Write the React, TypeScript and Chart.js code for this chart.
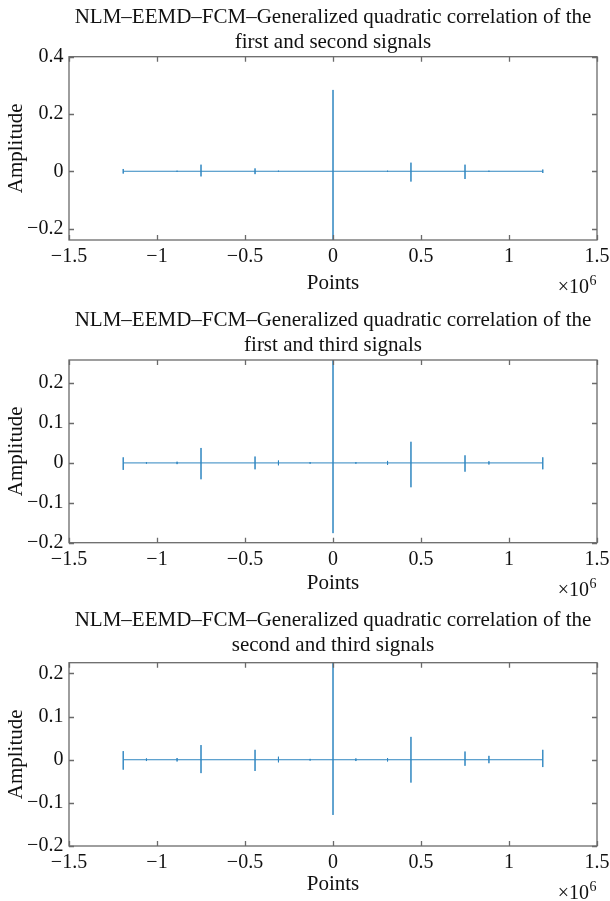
import React, { useEffect, useRef } from "react";
import { Chart, registerables } from "chart.js";

Chart.register(...registerables);

// ---------- data ----------
const X_TICKS = [-1.5e6, -1e6, -0.5e6, 0, 0.5e6, 1e6, 1.5e6];
const X_MIN = -1.5e6;
const X_MAX = 1.5e6;
const SIGNAL_START = -1.192e6;
const SIGNAL_END = 1.192e6;

const TITLE_LINE_1 = "NLM–EEMD–FCM–Generalized quadratic correlation of the";
const P1_TITLE_LINE_2 = "first and second signals";
const P2_TITLE_LINE_2 = "first and third signals";
const P3_TITLE_LINE_2 = "second and third signals";
const X_LABEL = "Points";
const Y_LABEL = "Amplitude";

const P1_SPIKE_X = [-1.192e6, -0.886e6, -0.75e6, -0.443e6, -0.31e6, 0, 0.31e6, 0.443e6, 0.75e6, 0.886e6, 1.192e6];
const P1_UP = [0.008, 0.002, 0.023, 0.01, 0.002, 0.284, 0.002, 0.03, 0.023, 0.002, 0.006];
const P1_DOWN = [-0.008, -0.002, -0.018, -0.01, -0.002, -0.3, -0.002, -0.036, -0.027, -0.002, -0.006];
const P1_Y_TICKS = [-0.2, 0, 0.2, 0.4];
const P1_Y_MIN = -0.24;
const P1_Y_MAX = 0.4;

const P2_SPIKE_X = [-1.192e6, -1.06e6, -0.886e6, -0.75e6, -0.443e6, -0.31e6, -0.13e6, 0, 0.13e6, 0.31e6, 0.443e6, 0.75e6, 0.886e6, 1.192e6];
const P2_UP = [0.014, 0.002, 0.003, 0.0375, 0.016, 0.006, 0.002, 0.3, 0.002, 0.005, 0.053, 0.019, 0.004, 0.014];
const P2_DOWN = [-0.0175, -0.002, -0.003, -0.041, -0.016, -0.006, -0.002, -0.176, -0.002, -0.005, -0.061, -0.022, -0.004, -0.016];
const P2_Y_TICKS = [-0.2, -0.1, 0, 0.1, 0.2];
const P2_Y_MIN = -0.2;
const P2_Y_MAX = 0.258;

const P3_SPIKE_X = [-1.192e6, -1.06e6, -0.886e6, -0.75e6, -0.443e6, -0.31e6, -0.13e6, 0, 0.13e6, 0.31e6, 0.443e6, 0.75e6, 0.886e6, 1.192e6];
const P3_UP = [0.02, 0.003, 0.004, 0.034, 0.023, 0.007, 0.002, 0.3, 0.003, 0.004, 0.053, 0.019, 0.009, 0.023];
const P3_DOWN = [-0.023, -0.003, -0.004, -0.031, -0.026, -0.006, -0.002, -0.128, -0.003, -0.004, -0.053, -0.014, -0.008, -0.017];
const P3_Y_TICKS = [-0.2, -0.1, 0, 0.1, 0.2];
const P3_Y_MIN = -0.2;
const P3_Y_MAX = 0.225;

// ---------- styling / layout ----------
const FONT = "'Liberation Serif', 'DejaVu Serif', serif";
const LINE_COLOR = "#2f86c0";
const BOX_COLOR = "#6a6a6a";
const TEXT_COLOR = "#111111";

type PanelDef = {
  title2: string;
  spikeX: number[];
  up: number[];
  down: number[];
  yTicks: number[];
  yMin: number;
  yMax: number;
  top: number;
  height: number;
  titlePadTop: number;
  titlePadBottom: number;
  xAxisHeight: number;
};

const PANELS: PanelDef[] = [
  { title2: P1_TITLE_LINE_2, spikeX: P1_SPIKE_X, up: P1_UP, down: P1_DOWN, yTicks: P1_Y_TICKS, yMin: P1_Y_MIN, yMax: P1_Y_MAX,
    top: 0, height: 300, titlePadTop: 4.5, titlePadBottom: 2.2, xAxisHeight: 60 },
  { title2: P2_TITLE_LINE_2, spikeX: P2_SPIKE_X, up: P2_UP, down: P2_DOWN, yTicks: P2_Y_TICKS, yMin: P2_Y_MIN, yMax: P2_Y_MAX,
    top: 300, height: 300, titlePadTop: 7.5, titlePadBottom: 2.5, xAxisHeight: 57.3 },
  { title2: P3_TITLE_LINE_2, spikeX: P3_SPIKE_X, up: P3_UP, down: P3_DOWN, yTicks: P3_Y_TICKS, yMin: P3_Y_MIN, yMax: P3_Y_MAX,
    top: 600, height: 301, titlePadTop: 7.5, titlePadBottom: 5.2, xAxisHeight: 55 },
];

function fmt(v: number, scale: number): string {
  const n = Number((v / scale).toFixed(3));
  if (n === 0) return "0";
  const s = String(Math.abs(n));
  return n < 0 ? "\u2212" + s : s;
}

function buildPoints(p: PanelDef) {
  const pts: { x: number; y: number }[] = [{ x: SIGNAL_START, y: 0 }];
  p.spikeX.forEach((x, i) => {
    pts.push({ x, y: 0 }, { x, y: p.up[i] }, { x, y: p.down[i] }, { x, y: 0 });
  });
  pts.push({ x: SIGNAL_END, y: 0 });
  return pts;
}

const boxPlugin = {
  id: "matlabBox",
  afterDraw(chart: any) {
    const { ctx, chartArea } = chart;
    const { left, right, top, bottom } = chartArea;
    const xs = chart.scales.x;
    const ys = chart.scales.y;
    ctx.save();
    ctx.strokeStyle = BOX_COLOR;
    ctx.lineWidth = 1.3;
    ctx.beginPath();
    X_TICKS.forEach((v) => {
      const px = Math.round(xs.getPixelForValue(v)) + 0.5;
      ctx.moveTo(px, bottom);
      ctx.lineTo(px, bottom - 5);
      ctx.moveTo(px, top);
      ctx.lineTo(px, top + 5);
    });
    (ys.ticks || []).forEach((t: any) => {
      const py = Math.round(ys.getPixelForValue(t.value)) + 0.5;
      ctx.moveTo(left, py);
      ctx.lineTo(left + 5, py);
      ctx.moveTo(right, py);
      ctx.lineTo(right - 5, py);
    });
    ctx.stroke();
    ctx.strokeRect(left, top, right - left, bottom - top);

    // x10^6 exponent label
    ctx.fillStyle = TEXT_COLOR;
    ctx.textBaseline = "alphabetic";
    ctx.textAlign = "left";
    ctx.font = `20px ${FONT}`;
    const base = "\u00d710";
    const wb = ctx.measureText(base).width;
    ctx.font = `14px ${FONT}`;
    const w6 = ctx.measureText("6").width;
    const x0 = right - 1 - w6 - wb;
    ctx.font = `20px ${FONT}`;
    ctx.fillText(base, x0, bottom + 53);
    ctx.font = `14px ${FONT}`;
    ctx.fillText("6", x0 + wb + 0.5, bottom + 45);
    ctx.restore();
  },
};

function Panel({ def }: { def: PanelDef }) {
  const ref = useRef<HTMLCanvasElement | null>(null);
  useEffect(() => {
    if (!ref.current) return;
    const chart = new Chart(ref.current, {
      type: "line",
      data: {
        datasets: [
          {
            data: buildPoints(def),
            borderColor: LINE_COLOR,
            borderWidth: 1,
            pointRadius: 0,
            tension: 0,
            fill: false,
          },
        ],
      },
      options: {
        responsive: false,
        animation: false,
        devicePixelRatio: 1,
        parsing: false,
        normalized: true,
        layout: { padding: { left: 0, right: 13, top: 0, bottom: 0 } },
        plugins: {
          legend: { display: false },
          tooltip: { enabled: false },
          title: {
            display: true,
            fullSize: false,
            text: [TITLE_LINE_1, def.title2],
            color: TEXT_COLOR,
            font: { family: FONT, size: 21, weight: "normal", lineHeight: 25 / 21 },
            padding: { top: def.titlePadTop, bottom: def.titlePadBottom },
          },
        },
        scales: {
          x: {
            type: "linear",
            min: X_MIN,
            max: X_MAX,
            grid: { display: false, drawTicks: false },
            border: { display: false },
            afterBuildTicks: (s: any) => {
              s.ticks = X_TICKS.map((v) => ({ value: v }));
            },
            afterFit: (s: any) => {
              s.height = def.xAxisHeight;
              s.paddingLeft = 0;
              s.paddingRight = 0;
            },
            ticks: {
              autoSkip: false,
              maxRotation: 0,
              padding: 4.7,
              color: TEXT_COLOR,
              font: { family: FONT, size: 20 },
              callback: (v: any) => fmt(Number(v), 1e6),
            },
            title: {
              display: true,
              text: X_LABEL,
              color: TEXT_COLOR,
              font: { family: FONT, size: 21 },
              padding: { top: 0, bottom: 4 },
            },
          },
          y: {
            type: "linear",
            min: def.yMin,
            max: def.yMax,
            grid: { display: false, drawTicks: false },
            border: { display: false },
            afterBuildTicks: (s: any) => {
              s.ticks = def.yTicks.map((v) => ({ value: v }));
            },
            afterFit: (s: any) => {
              s.width = 69;
              s.paddingTop = 0;
              s.paddingBottom = 0;
            },
            ticks: {
              autoSkip: false,
              padding: 5.6,
              color: TEXT_COLOR,
              font: { family: FONT, size: 20 },
              callback: (v: any) => fmt(Number(v), 1),
            },
            title: {
              display: true,
              text: Y_LABEL,
              color: TEXT_COLOR,
              font: { family: FONT, size: 21 },
              padding: { top: 4, bottom: 0 },
            },
          },
        },
      },
      plugins: [boxPlugin],
    } as any);
    return () => chart.destroy();
  }, [def]);
  return (
    <canvas
      ref={ref}
      width={610}
      height={def.height}
      style={{ position: "absolute", left: 0, top: def.top, width: 610, height: def.height, display: "block" }}
    />
  );
}

export default function App() {
  return (
    <div
      style={{
        position: "absolute",
        left: 0,
        top: 0,
        width: 610,
        height: 901,
        overflow: "hidden",
        background: "#ffffff",
      }}
    >
      {PANELS.map((p, i) => (
        <Panel key={i} def={p} />
      ))}
    </div>
  );
}
